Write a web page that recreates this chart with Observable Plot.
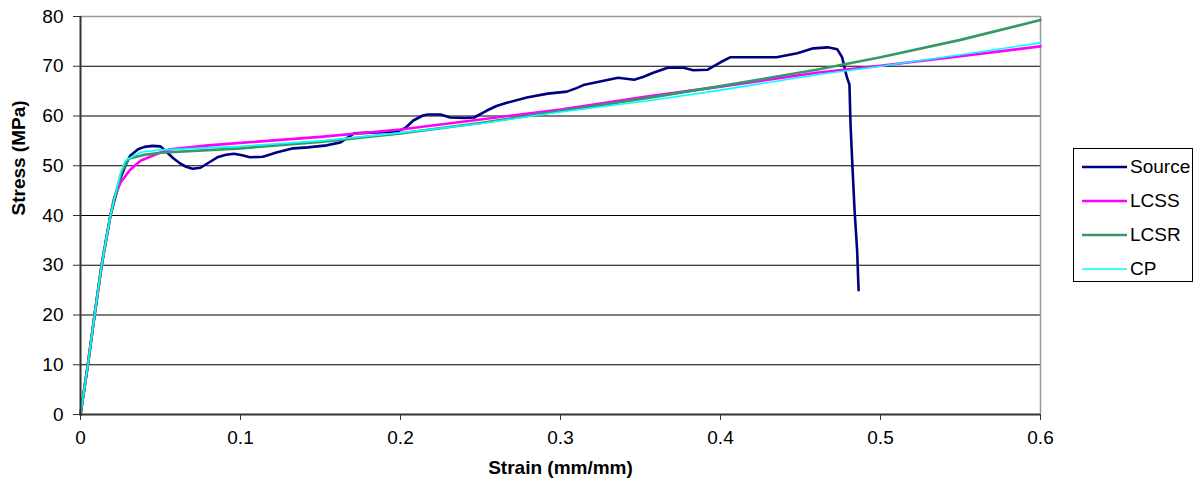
<!DOCTYPE html>
<html>
<head>
<meta charset="utf-8">
<script src="https://cdn.jsdelivr.net/npm/d3@7"></script>
<script src="https://cdn.jsdelivr.net/npm/@observablehq/plot@0.6"></script>
<style>
  html, body { margin: 0; padding: 0; background: #fff; }
  #wrap { position: relative; width: 1200px; height: 495px; font-family: "Liberation Sans", Arial, sans-serif; }
  #legend { position: absolute; left: 1073px; top: 148px; width: 118px; height: 132px; border: 1px solid #000; background: #fff; box-sizing: content-box; }
  .item { position: absolute; left: 8px; height: 20px; display: flex; align-items: center; font-size: 19px; color: #000; }
  .item svg { margin-right: 3px; }
</style>
</head>
<body>
<div id="wrap"></div>
<script>
const seriesNames = ["Source", "LCSS", "LCSR", "CP"];
const seriesColors = ["#000080", "#ff00ff", "#339966", "#00ffff"];
const seriesWidths = [2.6, 2.6, 2.6, 1.6];

const sourceStrain = [0, 0.0046, 0.0088, 0.0132, 0.0187, 0.022, 0.025, 0.028, 0.031, 0.036, 0.040, 0.045, 0.050, 0.054, 0.058, 0.0625, 0.066, 0.070, 0.075, 0.080, 0.0855, 0.091, 0.096, 0.101, 0.106, 0.114, 0.123, 0.133, 0.142, 0.154, 0.1625, 0.171, 0.185, 0.198, 0.203, 0.208, 0.214, 0.217, 0.225, 0.231, 0.240, 0.246, 0.254, 0.260, 0.267, 0.279, 0.292, 0.304, 0.310, 0.315, 0.327, 0.336, 0.346, 0.352, 0.358, 0.367, 0.377, 0.383, 0.392, 0.400, 0.406, 0.420, 0.435, 0.448, 0.458, 0.467, 0.473, 0.476, 0.478, 0.479, 0.4806, 0.4813, 0.4825, 0.4838, 0.4854, 0.4863];
const sourceStress = [0, 10, 20, 30, 40, 44, 47.5, 50, 52, 53.3, 53.8, 54, 53.9, 52.7, 51.5, 50.4, 49.8, 49.4, 49.6, 50.6, 51.7, 52.2, 52.4, 52.1, 51.7, 51.8, 52.7, 53.5, 53.7, 54.1, 54.7, 56.5, 56.7, 56.9, 57.6, 59.1, 60.1, 60.3, 60.3, 59.7, 59.6, 59.7, 61.1, 62.0, 62.7, 63.7, 64.5, 64.9, 65.6, 66.3, 67.1, 67.7, 67.3, 67.9, 68.7, 69.7, 69.7, 69.2, 69.3, 70.8, 71.8, 71.8, 71.8, 72.6, 73.6, 73.8, 73.4, 71.8, 69.1, 67.8, 66.3, 58.1, 49.6, 41, 33, 25];

const lcssStrain = [0, 0.0046, 0.0088, 0.0132, 0.0187, 0.021, 0.025, 0.031, 0.0375, 0.048, 0.056, 0.080, 0.100, 0.150, 0.200, 0.250, 0.300, 0.356, 0.400, 0.460, 0.500, 0.550, 0.600];
const lcssStress = [0, 10, 20, 30, 40, 43.5, 46.6, 49.2, 51, 52.4, 53.3, 54.1, 54.6, 55.8, 57.3, 59.3, 61.3, 64.0, 65.9, 68.7, 70.1, 72.0, 74.0];

const lcsrStrain = [0, 0.0046, 0.0088, 0.0132, 0.0187, 0.022, 0.026, 0.030, 0.040, 0.050, 0.100, 0.150, 0.200, 0.250, 0.300, 0.356, 0.400, 0.460, 0.500, 0.550, 0.600];
const lcsrStress = [0, 10, 20, 30, 40, 44.5, 49, 51.4, 52.2, 52.6, 53.5, 54.8, 56.5, 58.6, 61.0, 63.7, 66.0, 69.3, 71.8, 75.3, 79.3];

const cpStrain = [0, 0.0046, 0.0088, 0.0132, 0.0187, 0.022, 0.025, 0.028, 0.0375, 0.050, 0.100, 0.150, 0.200, 0.250, 0.300, 0.356, 0.400, 0.460, 0.500, 0.550, 0.600];
const cpStress = [0, 10, 20, 30, 40, 44.5, 48.5, 51, 52.7, 53.2, 53.9, 55.0, 56.6, 58.5, 60.8, 63.1, 65.2, 68.3, 70.0, 72.3, 74.7];

const xTicks = [0, 0.1, 0.2, 0.3, 0.4, 0.5, 0.6];
const yTicks = [0, 10, 20, 30, 40, 50, 60, 70, 80];
const xTitle = "Strain (mm/mm)";
const yTitle = "Stress (MPa)";

const toRows = (xs, ys) => xs.map((x, i) => ({x, y: ys[i]}));
const series = [
  toRows(sourceStrain, sourceStress),
  toRows(lcssStrain, lcssStress),
  toRows(lcsrStrain, lcsrStress),
  toRows(cpStrain, cpStress)
];

const chart = Plot.plot({
  width: 1200,
  height: 495,
  marginLeft: 80,
  marginRight: 160,
  marginTop: 16,
  marginBottom: 81,
  style: { fontFamily: "'Liberation Sans', Arial, sans-serif", fontSize: "20px", color: "#000", background: "#fff" },
  x: { domain: [0, 0.6] },
  y: { domain: [0, 80] },
  marks: [
    Plot.ruleY(yTicks.filter(d => d > 0 && d < 80), { stroke: "#000", strokeWidth: 1.2 }),
    Plot.ruleY([80], { stroke: "#999", strokeWidth: 1.5 }),
    Plot.ruleX([0.6], { stroke: "#999", strokeWidth: 1.5 }),
    ...series.map((rows, i) => Plot.line(rows, { x: "x", y: "y", stroke: seriesColors[i], strokeWidth: seriesWidths[i], curve: "linear" })),
    Plot.ruleY([0], { stroke: "#333", strokeWidth: 2 }),
    Plot.ruleX([0], { stroke: "#333", strokeWidth: 2 }),
    Plot.axisX({ ticks: xTicks, tickSize: 6, tickPadding: 10, tickFormat: d => String(+d.toFixed(1)), label: null, stroke: "#333", fontSize: 19 }),
    Plot.axisY({ ticks: yTicks, tickSize: 7, tickPadding: 10, tickFormat: d => String(d), label: null, stroke: "#333", fontSize: 19 }),
    Plot.text([xTitle], { frameAnchor: "bottom", dy: 59, text: d => d, fontWeight: "bold", fontSize: 19 }),
    Plot.text([yTitle], { frameAnchor: "left", dx: -62, rotate: -90, text: d => d, fontWeight: "bold", fontSize: 19 })
  ]
});

const wrap = document.getElementById("wrap");
wrap.appendChild(chart);

const legend = document.createElement("div");
legend.id = "legend";
seriesNames.forEach((name, i) => {
  const item = document.createElement("div");
  item.className = "item";
  item.style.top = (8 + i * 34) + "px";
  item.innerHTML = `<svg width="45" height="6"><line x1="0" x2="45" y1="3" y2="3" stroke="${seriesColors[i]}" stroke-width="${seriesWidths[i]}"/></svg><span>${name}</span>`;
  legend.appendChild(item);
});
wrap.appendChild(legend);
</script>
</body>
</html>
